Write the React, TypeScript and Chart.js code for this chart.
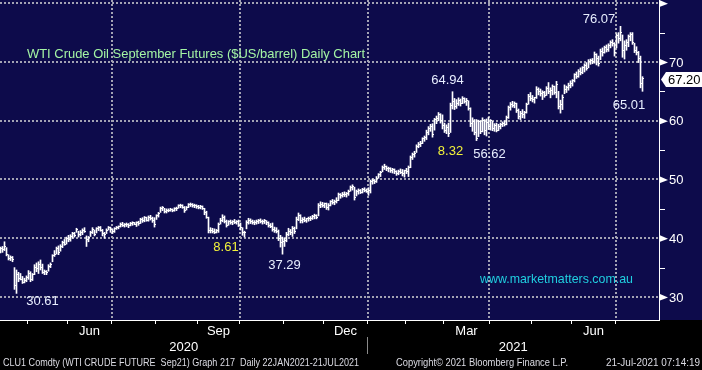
import React, { useEffect, useRef } from "react";
import { Chart, registerables } from "chart.js";

Chart.register(...registerables);

// Daily bars, trading-day index 0 (13 Apr 2020) .. 321 (21 Jul 2021)
const highs = [
  38.5, 38.6, 39.4, 38.4, 37.2, 37.0, 36.9, 35.0, 34.6, 34.2, 34.0, 33.5, 33.2, 33.6, 34.5, 34.3, 34.0, 35.5, 35.8, 36.0,
  36.3, 35.6, 34.6, 34.5, 35.5, 35.8, 37.2, 37.9, 38.5, 38.7, 38.9, 39.5, 39.8, 40.2, 40.5, 40.6, 41.0, 41.0, 41.7, 41.2,
  41.3, 41.6, 41.8, 40.4, 40.3, 41.2, 41.8, 41.4, 41.8, 42.0, 42.0, 41.5, 41.0, 41.6, 42.0, 41.9, 41.5, 41.8, 42.0, 42.1,
  42.6, 42.7, 42.5, 42.6, 42.5, 42.7, 42.8, 42.7, 42.8, 42.9, 43.4, 43.5, 43.7, 43.6, 43.8, 43.9, 43.6, 43.5, 44.0, 44.4,
  45.3, 45.4, 45.1, 45.0, 45.0, 45.1, 45.0, 45.2, 45.3, 45.7, 45.8, 45.7, 45.4, 45.4, 45.9, 46.0, 45.9, 45.8, 45.7, 45.6,
  45.6, 45.5, 45.1, 44.6, 43.6, 41.8, 41.7, 41.6, 41.5, 42.6, 43.4, 44.0, 43.8, 43.1, 43.0, 43.1, 43.0, 43.2, 43.0, 43.1,
  42.6, 41.8, 41.2, 43.0, 43.4, 43.3, 43.1, 43.0, 43.1, 43.2, 43.3, 43.1, 43.2, 43.0, 42.8, 42.5, 42.6, 41.9, 41.8, 41.4,
  40.5, 40.2, 40.0, 41.0, 41.7, 41.5, 42.0, 41.9, 43.6, 44.3, 44.0, 43.5, 43.6, 43.4, 43.6, 43.7, 43.9, 44.1, 44.0, 45.9,
  46.2, 46.1, 46.0, 46.0, 45.9, 46.4, 46.6, 46.5, 46.9, 47.7, 47.6, 47.8, 47.9, 47.8, 48.2, 48.9, 49.1, 48.7, 48.2, 48.4,
  48.3, 48.5, 48.6, 48.4, 48.6, 49.9, 50.1, 50.0, 50.5, 51.0, 51.4, 52.3, 52.6, 52.3, 52.1, 52.0, 51.9, 51.8, 51.5, 51.6,
  51.8, 51.7, 51.6, 51.9, 52.3, 54.0, 54.5, 54.8, 55.9, 56.3, 56.5, 57.1, 57.4, 58.4, 59.0, 59.4, 59.5, 60.4, 60.8, 61.4,
  61.2, 61.0, 59.6, 59.3, 59.6, 63.0, 64.94, 63.8, 63.6, 63.9, 63.7, 64.1, 63.9, 63.8, 63.4, 62.2, 60.5, 60.2, 60.2, 60.1,
  60.0, 60.5, 60.2, 60.3, 60.6, 60.2, 59.9, 59.5, 59.6, 59.4, 59.6, 59.8, 60.0, 60.8, 62.5, 63.1, 63.3, 63.2, 63.0, 62.0,
  61.6, 61.9, 61.6, 63.0, 64.5, 64.8, 64.3, 64.0, 65.8, 65.6, 65.4, 65.1, 65.0, 65.8, 66.5, 65.6, 66.1, 65.9, 66.7, 65.0,
  63.5, 64.4, 66.1, 65.9, 66.4, 66.8, 67.0, 68.0, 68.3, 68.7, 69.0, 69.2, 69.7, 69.9, 70.4, 70.5, 70.6, 71.7, 71.4, 71.0,
  72.2, 72.4, 72.7, 72.9, 73.1, 73.6, 73.8, 73.3, 74.8, 75.0, 76.07, 74.6, 73.6, 73.8, 74.6, 75.0, 75.0, 73.2, 72.6, 71.8,
  71.0, 67.5,
];
const lows = [
  37.5, 37.6, 37.9, 37.0, 36.3, 36.2, 36.0, 31.3, 30.61, 32.6, 32.9, 32.3, 32.4, 32.6, 33.0, 32.6, 32.8, 33.8, 34.3, 34.0,
  34.6, 34.0, 33.8, 33.8, 34.4, 35.0, 36.0, 36.9, 37.3, 37.2, 37.8, 38.4, 38.8, 39.0, 39.4, 39.5, 40.0, 40.2, 41.0, 40.2,
  40.4, 40.6, 41.0, 38.6, 39.4, 40.3, 40.8, 40.4, 40.9, 41.3, 41.2, 40.4, 40.0, 40.8, 41.4, 41.0, 40.8, 41.0, 41.5, 41.6,
  41.9, 42.0, 41.9, 42.0, 41.8, 42.1, 42.2, 42.3, 42.0, 42.2, 42.5, 42.7, 42.8, 42.9, 42.9, 43.1, 42.7, 41.9, 43.2, 43.6,
  44.4, 44.7, 44.3, 44.3, 44.5, 44.6, 44.5, 44.6, 44.7, 45.1, 45.2, 45.1, 44.4, 44.8, 45.2, 45.4, 45.3, 45.2, 45.1, 45.0,
  45.0, 44.9, 44.0, 43.4, 40.9, 40.9, 40.9, 40.8, 40.9, 41.0, 42.4, 42.8, 42.6, 41.9, 42.2, 42.4, 42.3, 42.5, 42.4, 42.0,
  41.4, 40.5, 40.2, 41.6, 42.4, 42.5, 42.4, 42.3, 42.4, 42.5, 42.6, 42.4, 42.5, 42.3, 41.9, 41.8, 41.2, 41.0, 40.9, 39.6,
  38.5, 37.29, 38.6, 39.4, 40.4, 40.6, 40.3, 40.8, 41.6, 43.0, 42.6, 42.6, 42.8, 42.7, 42.9, 43.0, 43.2, 43.3, 43.3, 43.8,
  45.2, 45.3, 45.2, 44.9, 44.8, 45.5, 45.8, 45.7, 46.0, 46.4, 46.8, 47.0, 47.1, 47.0, 47.3, 48.0, 48.2, 46.5, 47.2, 47.5,
  47.6, 47.7, 47.9, 47.8, 47.3, 47.7, 49.2, 49.3, 49.5, 50.2, 50.5, 51.3, 51.7, 51.5, 51.3, 51.2, 51.1, 51.0, 50.7, 50.8,
  51.0, 50.6, 50.4, 51.0, 50.5, 52.0, 53.4, 53.8, 54.6, 55.4, 55.6, 56.1, 56.5, 56.8, 57.6, 58.2, 57.2, 58.4, 59.5, 60.0,
  59.6, 58.6, 58.0, 57.8, 57.3, 58.0, 62.0, 61.9, 62.1, 62.6, 62.5, 62.9, 63.0, 62.6, 61.8, 59.0, 58.2, 57.6, 56.62, 57.3,
  57.8, 58.1, 57.6, 57.4, 58.5, 58.4, 58.3, 58.2, 58.1, 58.3, 58.6, 59.0, 59.1, 59.3, 60.4, 61.8, 62.3, 62.2, 61.4, 60.3,
  60.2, 60.5, 60.4, 61.3, 62.8, 63.4, 63.2, 63.0, 63.8, 64.4, 64.2, 63.6, 64.0, 64.3, 64.6, 63.9, 64.4, 64.5, 63.9, 62.0,
  61.3, 61.9, 64.6, 64.8, 65.2, 65.6, 65.9, 66.6, 67.2, 67.4, 67.8, 68.0, 68.3, 68.6, 69.0, 69.6, 69.7, 69.8, 69.5, 69.3,
  70.4, 71.0, 71.5, 71.7, 71.8, 72.4, 72.7, 71.0, 72.4, 73.2, 73.6, 70.8, 70.5, 72.0, 72.6, 73.6, 73.0, 71.6, 71.2, 69.9,
  65.6, 65.01,
];
const closes = [
  38.2, 38.0, 38.6, 37.3, 36.6, 36.8, 36.3, 32.0, 33.8, 33.2, 33.0, 32.5, 32.8, 33.3, 34.0, 33.0, 33.8, 35.0, 34.8, 35.6,
  35.0, 34.2, 34.3, 34.1, 35.2, 35.6, 37.0, 37.3, 38.2, 37.6, 38.6, 39.2, 39.0, 40.0, 39.8, 40.3, 40.8, 40.5, 41.5, 40.6,
  41.0, 41.3, 41.2, 39.8, 40.1, 41.0, 41.5, 40.7, 41.6, 41.8, 41.4, 40.8, 40.6, 41.4, 41.8, 41.5, 41.2, 41.6, 41.8, 42.0,
  42.4, 42.2, 42.3, 42.4, 42.1, 42.5, 42.6, 42.4, 42.6, 42.5, 43.2, 43.0, 43.5, 43.1, 43.6, 43.4, 43.0, 42.3, 43.9, 44.2,
  45.0, 45.2, 44.6, 44.8, 44.8, 44.9, 44.7, 45.0, 45.1, 45.5, 45.6, 45.3, 44.8, 45.2, 45.7, 45.8, 45.5, 45.6, 45.4, 45.3,
  45.4, 45.1, 44.3, 43.6, 41.3, 41.4, 41.2, 41.0, 41.3, 42.3, 43.1, 43.6, 42.9, 42.2, 42.8, 42.6, 42.9, 42.7, 42.8, 42.2,
  41.8, 40.9, 41.0, 42.7, 43.1, 42.8, 42.7, 42.6, 42.9, 43.0, 42.8, 42.9, 43.0, 42.6, 42.2, 42.0, 41.5, 41.4, 41.1, 40.0,
  39.2, 39.5, 39.6, 40.6, 41.2, 40.9, 41.6, 41.2, 43.2, 43.9, 43.0, 43.2, 43.0, 43.3, 43.4, 43.3, 43.7, 43.9, 43.6, 45.6,
  45.8, 45.6, 45.9, 45.2, 45.6, 46.2, 46.0, 46.3, 46.5, 47.4, 47.2, 47.5, 47.4, 47.6, 48.0, 48.6, 48.8, 47.0, 47.9, 48.1,
  47.8, 48.3, 48.2, 48.0, 48.2, 49.6, 49.8, 49.6, 50.2, 50.8, 51.2, 52.1, 52.2, 51.8, 51.9, 51.5, 51.7, 51.3, 51.0, 51.4,
  51.2, 51.0, 51.5, 51.3, 52.0, 53.7, 54.2, 54.5, 55.6, 56.0, 56.2, 56.9, 57.2, 58.0, 58.6, 59.1, 57.6, 60.2, 60.4, 61.0,
  60.1, 59.2, 58.4, 58.9, 57.8, 62.6, 63.2, 62.5, 63.0, 63.5, 62.9, 63.8, 63.3, 63.5, 62.0, 59.6, 59.8, 58.0, 57.0, 59.8,
  58.2, 60.0, 58.4, 59.7, 59.0, 60.0, 58.6, 59.2, 58.4, 59.0, 59.3, 59.5, 59.4, 60.5, 62.2, 62.8, 62.6, 63.0, 61.8, 60.8,
  61.2, 61.0, 61.4, 62.7, 64.1, 63.8, 63.6, 63.9, 65.4, 65.0, 64.6, 64.8, 64.3, 65.5, 65.0, 65.2, 65.8, 64.8, 66.2, 62.4,
  62.8, 64.0, 65.4, 65.6, 66.0, 66.3, 66.8, 67.8, 67.6, 68.4, 68.2, 69.0, 69.4, 68.9, 70.0, 70.2, 70.0, 71.2, 70.6, 69.8,
  71.8, 71.6, 72.4, 72.2, 72.8, 73.3, 73.1, 71.6, 74.5, 74.0, 75.0, 72.0, 72.8, 73.4, 74.3, 74.6, 73.4, 72.0, 71.6, 70.6,
  66.4, 67.2,
];

// Axis definitions
const priceTicks = [30, 40, 50, 60, 70, 80];
const priceMinorTicks = [35, 45, 55, 65, 75];
const priceTickLabels = ["30", "40", "50", "60", "70", ""];
// first trading-day index of each month (May 2020 .. Jul 2021)
const monthStarts = [14, 34, 56, 78, 99, 120, 142, 162, 184, 203, 222, 245, 266, 286, 308];
const quarterStarts = [56, 120, 184, 245, 308];
const monthLabels = ["Jun", "Sep", "Dec", "Mar", "Jun"];
const monthLabelFrom = [34, 99, 162, 222, 286];
const monthLabelTo = [56, 120, 184, 245, 308];
const yearLabels = ["2020", "2021"];
const yearBoundary = 184;

// Bloomberg annotations (text, day index, price level for placement)
const noteTexts = ["64.94", "76.07", "65.01", "8.32", "56.62", "8.61", "37.29", "30.61"];
const noteColors = ["#e8eeff", "#e8eeff", "#e8eeff", "#f2f23a", "#e8eeff", "#f2f23a", "#e8eeff", "#e8eeff"];
const noteDays = [223.5, 299.25, 314.25, 225, 244.5, 112.75, 142, 21];
const notePrices = [66.94, 77.3, 62.68, 54.85, 54.34, 38.51, 35.45, 29.32];

const NAVY = "#0d0b4b";
const GRID = "#a3a3b3";
const FONT = '"Liberation Sans", Arial, sans-serif';

const decorPlugin = {
  id: "bbgDecor",
  beforeDraw(chart: any) {
    const { ctx, width, height, chartArea } = chart;
    ctx.save();
    ctx.fillStyle = "#000000";
    ctx.fillRect(0, 0, width, height);
    ctx.fillStyle = NAVY;
    ctx.fillRect(0, 0, width, chartArea.bottom);
    ctx.restore();
  },
  beforeDatasetsDraw(chart: any) {
    const { ctx, chartArea } = chart;
    const xs = chart.scales.x;
    const ys = chart.scales.y;
    ctx.save();
    ctx.strokeStyle = GRID;
    ctx.lineWidth = 2;
    ctx.setLineDash([2, 2]);
    for (const v of priceTicks) {
      const py = Math.round(ys.getPixelForValue(v));
      ctx.beginPath();
      ctx.moveTo(chartArea.left, py);
      ctx.lineTo(chartArea.right, py);
      ctx.stroke();
    }
    for (const q of quarterStarts) {
      const px = Math.round(xs.getPixelForValue(q - 0.5));
      ctx.beginPath();
      ctx.moveTo(px, chartArea.top);
      ctx.lineTo(px, chartArea.bottom);
      ctx.stroke();
    }
    ctx.restore();
  },
  afterDatasetsDraw(chart: any) {
    // close ticks to the right of each high-low bar, snapped to the pixel grid
    const { ctx, chartArea } = chart;
    const xs = chart.scales.x;
    const ys = chart.scales.y;
    ctx.save();
    ctx.beginPath();
    ctx.rect(chartArea.left, chartArea.top, chartArea.right - chartArea.left, chartArea.bottom - chartArea.top);
    ctx.clip();
    ctx.fillStyle = "#ffffff";
    for (let i = 0; i < closes.length; i++) {
      const px = Math.floor(xs.getPixelForValue(i));
      const cy = Math.round(ys.getPixelForValue(closes[i]) - 0.5);
      ctx.fillRect(px + 1, cy, 1, 1);
    }
    ctx.restore();
  },
  afterDraw(chart: any) {
    const { ctx, chartArea, width } = chart;
    const xs = chart.scales.x;
    const ys = chart.scales.y;
    const axisX = chartArea.right;
    ctx.save();
    ctx.setLineDash([]);

    // annotations
    ctx.font = `13px ${FONT}`;
    ctx.textBaseline = "middle";
    ctx.fillStyle = "#a4f5a4";
    ctx.textAlign = "left";
    ctx.fillText("WTI Crude Oil September Futures ($US/barrel) Daily Chart", 27, 54, 338);
    ctx.textAlign = "center";
    for (let i = 0; i < noteTexts.length; i++) {
      ctx.fillStyle = noteColors[i];
      ctx.fillText(noteTexts[i], xs.getPixelForValue(noteDays[i]), ys.getPixelForValue(notePrices[i]));
    }
    ctx.fillStyle = "#20cfe0";
    ctx.textAlign = "left";
    ctx.fillText("www.marketmatters.com.au", 480, 279, 153);

    // right axis
    ctx.fillStyle = "#ffffff";
    ctx.fillRect(axisX, 0, 1, chartArea.bottom + 1);
    for (let i = 0; i < priceTicks.length; i++) {
      const py = ys.getPixelForValue(priceTicks[i]);
      ctx.beginPath();
      ctx.moveTo(axisX + 1, py - 3);
      ctx.lineTo(axisX + 9, py + 0.5);
      ctx.lineTo(axisX + 1, py + 3.5);
      ctx.closePath();
      ctx.fill();
      if (priceTickLabels[i]) {
        ctx.textAlign = "left";
        ctx.fillText(priceTickLabels[i], axisX + 10, py + 1);
      }
    }
    for (const v of priceMinorTicks) {
      const py = Math.round(ys.getPixelForValue(v));
      ctx.fillRect(axisX, py, 6, 1);
    }

    // last price marker
    const last = closes[closes.length - 1];
    const lp = ys.getPixelForValue(last) + 1;
    ctx.beginPath();
    ctx.moveTo(axisX + 2, lp);
    ctx.lineTo(axisX + 7, lp - 7.5);
    ctx.lineTo(width, lp - 7.5);
    ctx.lineTo(width, lp + 7.5);
    ctx.lineTo(axisX + 7, lp + 7.5);
    ctx.closePath();
    ctx.fill();
    ctx.fillStyle = "#000000";
    ctx.textAlign = "left";
    ctx.fillText(last.toFixed(2), axisX + 9, lp + 0.5);

    // bottom axis
    ctx.fillStyle = "#ffffff";
    ctx.fillRect(0, chartArea.bottom, axisX + 1, 1);
    for (const m of monthStarts) {
      const px = Math.floor(xs.getPixelForValue(m - 0.5));
      ctx.fillRect(px, chartArea.bottom, 1, 4);
    }
    ctx.textAlign = "center";
    for (let i = 0; i < monthLabels.length; i++) {
      const a = xs.getPixelForValue(monthLabelFrom[i] - 0.5);
      const b = xs.getPixelForValue(monthLabelTo[i] - 0.5);
      ctx.fillText(monthLabels[i], (a + b) / 2, 331);
    }
    const yb = xs.getPixelForValue(yearBoundary - 0.5);
    ctx.fillText(yearLabels[0], (chartArea.left + yb) / 2, 347);
    ctx.fillText(yearLabels[1], (yb + axisX) / 2, 347);
    ctx.fillStyle = "#8a8a8a";
    ctx.fillRect(Math.floor(yb), 337, 1, 17);

    // footer
    ctx.fillStyle = "#dcdce4";
    ctx.font = `11px ${FONT}`;
    ctx.textAlign = "left";
    ctx.fillText("CLU1 Comdty (WTI CRUDE FUTURE  Sep21) Graph 217  Daily 22JAN2021-21JUL2021", 3, 363, 356);
    ctx.fillText("Copyright\u00A9 2021 Bloomberg Finance L.P.", 396, 363, 172);
    ctx.fillText("21-Jul-2021 07:14:19", 606, 363, 94);
    ctx.restore();
  },
};

export default function App() {
  const ref = useRef<HTMLCanvasElement | null>(null);
  useEffect(() => {
    document.body.style.margin = "0";
    const canvas = ref.current;
    if (!canvas) return;
    const barData = highs.map((h, i) => ({ x: i, y: [lows[i], h] }));
    const chart = new Chart(canvas, {
      type: "bar",
      data: {
        datasets: [
          {
            type: "bar",
            data: barData as any,
            backgroundColor: "#ffffff",
            borderWidth: 0,
            barThickness: 1,
            grouped: false,
          } as any,
        ],
      },
      options: {
        animation: false,
        responsive: false,
        devicePixelRatio: 1,
        layout: { padding: { left: 0, top: 0, right: 43, bottom: 50 } },
        plugins: { legend: { display: false }, tooltip: { enabled: false }, title: { display: false } },
        events: [],
        scales: {
          x: { type: "linear", display: false, min: -0.25, max: 329.25, offset: false },
          y: { type: "linear", display: false, min: 26.085, max: 80.55, beginAtZero: false },
        },
      } as any,
      plugins: [decorPlugin as any],
    });
    return () => chart.destroy();
  }, []);
  return (
    <div style={{ width: 702, height: 370 }}>
      <canvas ref={ref} width={702} height={370} style={{ display: "block" }} />
    </div>
  );
}
